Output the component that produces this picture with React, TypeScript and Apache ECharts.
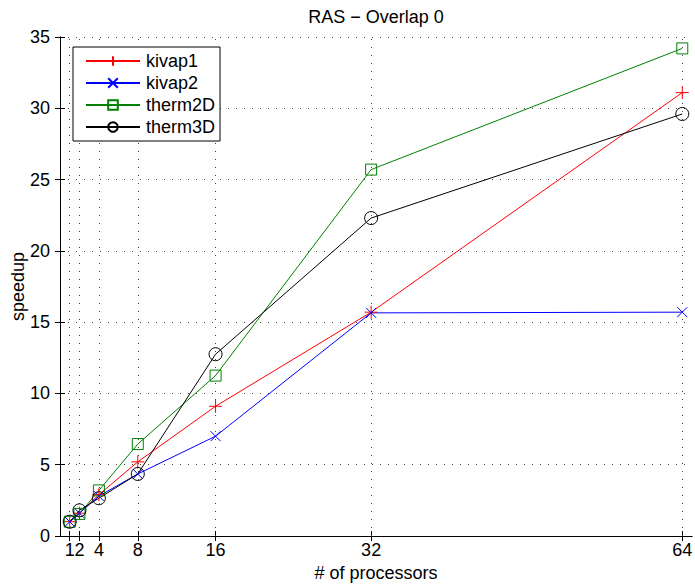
import React, { useEffect, useRef } from "react";
import * as echarts from "echarts";

const processors = [1, 2, 4, 8, 16, 32, 64];
const kivap1 = [1.0, 1.6, 2.9, 5.2, 9.1, 15.7, 31.1];
const kivap2 = [1.0, 1.6, 2.8, 4.35, 7.0, 15.65, 15.7];
const therm2D = [1.0, 1.55, 3.2, 6.45, 11.25, 25.7, 34.2];
const therm3D = [1.0, 1.8, 2.65, 4.35, 12.75, 22.3, 29.6];
const yTicks = [0, 5, 10, 15, 20, 25, 30, 35];

const FONT = "Liberation Sans";
const FS = 18;

const plusPath = "path://M6,0V12M0,6H12";
const crossPath = "path://M0,0L12,12M12,0L0,12";

function mk(name: string, vals: number[], color: string, symbol: string, size: number) {
  return {
    name,
    type: "line",
    data: processors.map((p, i) => [p, vals[i]]),
    symbol,
    symbolSize: size,
    showAllSymbol: true,
    lineStyle: { color, width: 1 },
    itemStyle: { color: "transparent", borderColor: color, borderWidth: 1 },
    emphasis: { disabled: true },
    z: 3,
  };
}

export default function App() {
  const ref = useRef<HTMLDivElement>(null);
  useEffect(() => {
    document.body.style.margin = "0";
    const chart = echarts.init(ref.current!, null, { renderer: "svg" });
    const dotted = { type: [1, 7] as any, color: "#444", width: 1 };
    const series: any[] = [
      mk("kivap1", kivap1, "#ff0000", plusPath, 13),
      mk("kivap2", kivap2, "#0000ff", crossPath, 10),
      mk("therm2D", therm2D, "#008000", "rect", 11),
      mk("therm3D", therm3D, "#000000", "circle", 13),
    ];
    series[0].markLine = {
      silent: true,
      symbol: "none",
      label: { show: false },
      lineStyle: dotted,
      data: processors.map((p) => ({ xAxis: p })),
      z: 1,
    };
    chart.setOption({
      animation: false,
      textStyle: { fontFamily: FONT },
      graphic: [
        {
          type: "text",
          x: 376,
          y: 17,
          style: {
            text: "RAS − Overlap 0",
            fontFamily: FONT,
            fontSize: FS,
            fill: "#000",
            align: "center",
            verticalAlign: "middle",
          },
        },
      ],
      grid: { left: 60, right: 3, top: 37, bottom: 52, containLabel: false, outerBoundsMode: "none" },
      legend: {
        orient: "vertical",
        left: 73,
        top: 47,
        padding: [5, 5, 5, 12],
        itemGap: 4,
        itemWidth: 54,
        itemHeight: 12,
        borderColor: "#000",
        borderWidth: 1,
        backgroundColor: "#fff",
        textStyle: { fontFamily: FONT, fontSize: FS, color: "#000", lineHeight: 18, padding: [0, 0, 0, 1] },
        data: ["kivap1", "kivap2", "therm2D", "therm3D"],
      },
      xAxis: [
        {
          type: "value",
          min: 0,
          max: 65,
          position: "bottom",
          name: "# of processors",
          nameLocation: "middle",
          nameGap: 28,
          nameMoveOverlap: false,
          nameTextStyle: { fontFamily: FONT, fontSize: FS, color: "#000" },
          axisLine: { show: true, lineStyle: { color: "#000", width: 1 } },
          axisTick: { show: true, inside: true, length: 5, customValues: processors, lineStyle: { color: "#000" } },
          axisLabel: {
            show: true,
            customValues: [0, ...processors],
            formatter: (v: number) => (v === 0 ? "" : String(v)),
            hideOverlap: false,
            showMinLabel: true,
            showMaxLabel: true,
            fontFamily: FONT,
            fontSize: FS,
            color: "#000",
            margin: 5,
          },
          splitLine: { show: false },
        },
        {
          type: "value",
          min: 0,
          max: 65,
          position: "top",
          axisLine: { show: true, lineStyle: { color: "#000", width: 1 } },
          axisTick: { show: true, inside: true, length: 5, customValues: processors, lineStyle: { color: "#000" } },
          axisLabel: { show: false },
          splitLine: { show: false },
        },
      ],
      yAxis: [
        {
          type: "value",
          min: 0,
          max: 35,
          interval: 5,
          position: "left",
          name: "speedup",
          nameLocation: "middle",
          nameGap: 33,
          nameMoveOverlap: false,
          nameTextStyle: { fontFamily: FONT, fontSize: FS, color: "#000" },
          axisLine: { show: true, lineStyle: { color: "#000", width: 1 } },
          axisTick: { show: true, inside: true, length: 5, lineStyle: { color: "#000" } },
          axisLabel: { fontFamily: FONT, fontSize: FS, color: "#000", margin: 10, hideOverlap: false },
          splitLine: { show: true, lineStyle: dotted },
        },
        {
          type: "value",
          min: 0,
          max: 35,
          interval: 5,
          position: "right",
          axisLine: { show: true, lineStyle: { color: "#000", width: 1 } },
          axisTick: { show: true, inside: true, length: 5, lineStyle: { color: "#000" } },
          axisLabel: { show: false },
          splitLine: { show: false },
        },
      ],
      series,
    });
    return () => chart.dispose();
  }, []);
  return <div ref={ref} style={{ width: 695, height: 588 }} />;
}
